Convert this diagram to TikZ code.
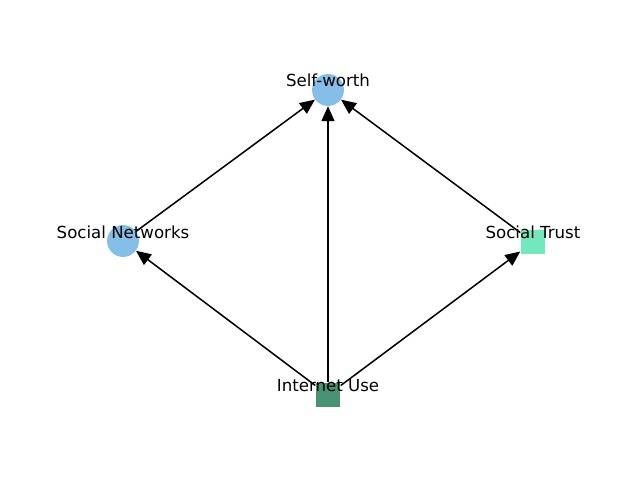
\documentclass[tikz,border=0pt]{standalone}
\usepackage{fontspec}
\setmainfont{DejaVu Sans}
\usetikzlibrary{arrows.meta}
\definecolor{circblue}{RGB}{133,190,230}
\definecolor{trustgreen}{RGB}{114,232,188}
\definecolor{usegreen}{RGB}{74,146,116}
\begin{document}
\begin{tikzpicture}[x=0.01in, y=-0.01in,
  roundnode/.style={circle, fill=circblue, draw=none, minimum size=32*0.72pt, inner sep=0pt},
  squarenode/.style={rectangle, draw=none, minimum size=25*0.72pt, inner sep=0pt},
  lbl/.style={anchor=base, inner sep=0pt, font=\fontsize{12}{14}\selectfont},
  link/.style={draw=black, line width=1.1pt, -{Triangle[length=15*0.72pt, width=13*0.72pt]}}]
  \useasboundingbox (0,0) rectangle (640,480);
  % nodes
  \node[roundnode] (sw) at (328,90) {};
  \node[roundnode] (sn) at (123,241) {};
  \node[squarenode, fill=trustgreen] (st) at (533,242) {};
  \node[squarenode, fill=usegreen] (iu) at (328,395) {};
  % connectors
  \draw[link] (iu) -- (sw);
  \draw[link] (iu) -- (sn);
  \draw[link] (iu) -- (st);
  \draw[link] (sn) -- (sw);
  \draw[link] (st) -- (sw);
  % labels
  \node[lbl] (swl) at (328,87) {Self-worth};
  \node[lbl] (snl) at (123,239) {Social Networks};
  \node[lbl] (stl) at (533,239) {Social Trust};
  \node[lbl] (iul) at (328,392) {Internet Use};
\end{tikzpicture}
\end{document}
